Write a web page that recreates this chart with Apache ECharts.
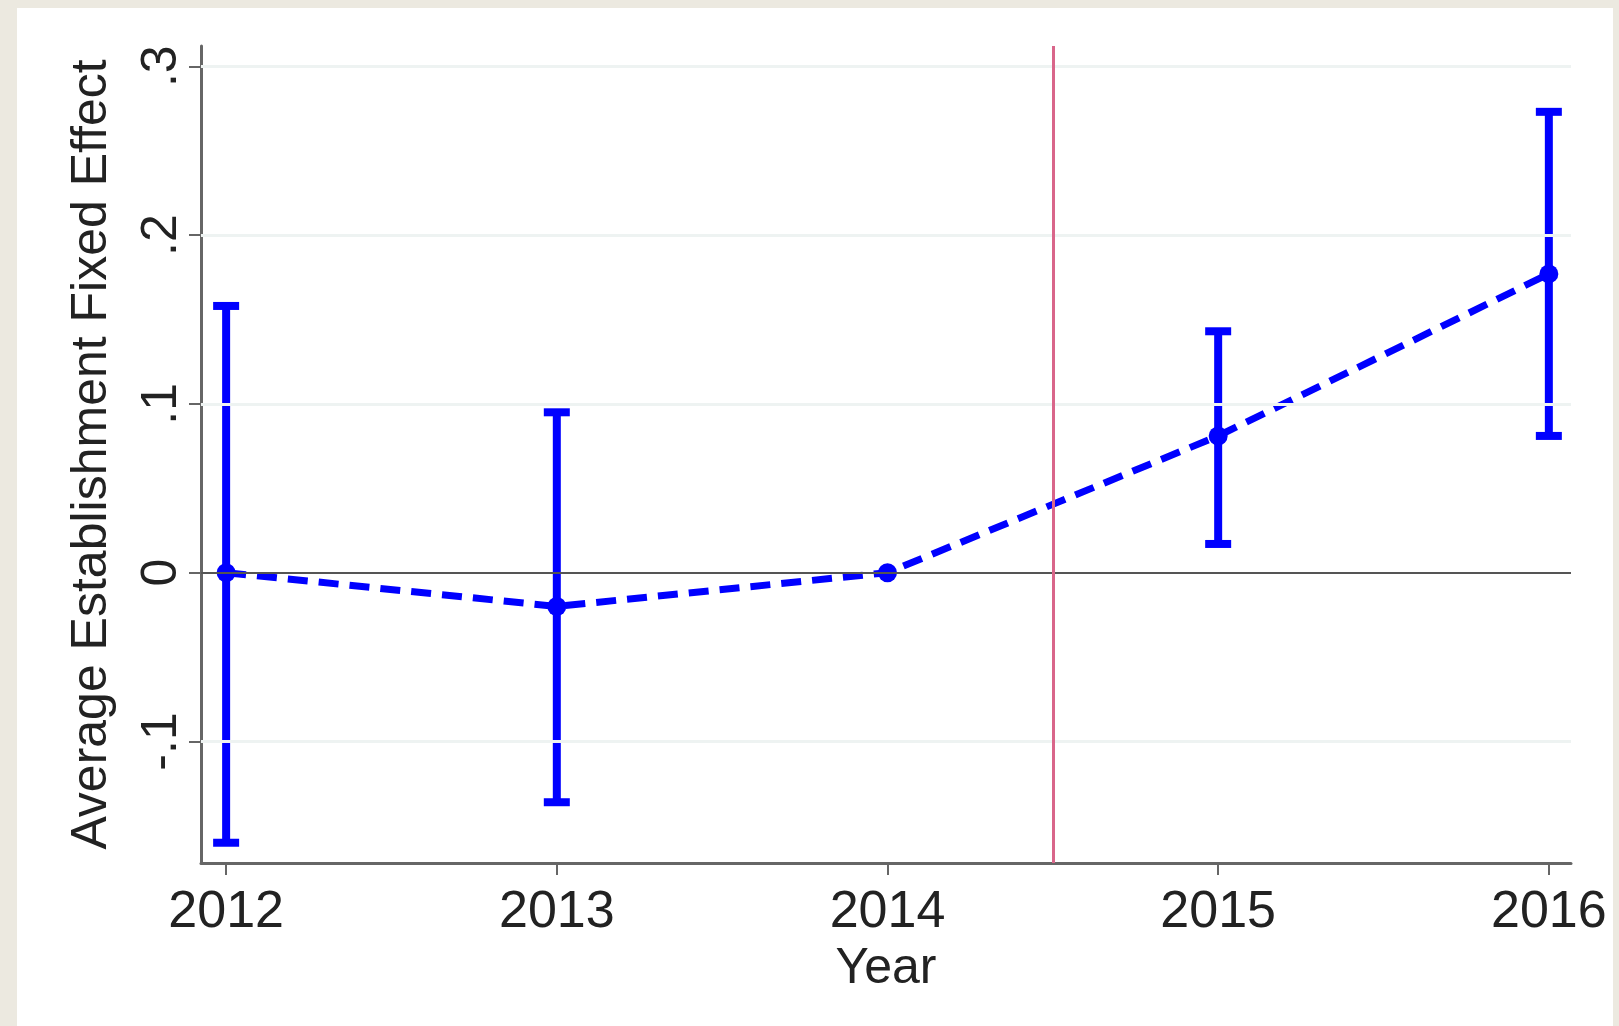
<!DOCTYPE html>
<html>
<head>
<meta charset="utf-8">
<title>Average Establishment Fixed Effect by Year</title>
<script src="https://cdn.jsdelivr.net/npm/echarts@6/dist/echarts.min.js"></script>
<style>
  html, body { margin: 0; padding: 0; width: 1619px; height: 1026px; background: #ECE9E0; overflow: hidden; }
  #chart { position: absolute; left: 17px; top: 8px; width: 1596px; height: 1018px; background: #ffffff; }
</style>
</head>
<body>
<div id="chart"></div>
<script>
// Event-study estimates: point estimate and 95% confidence bounds per year
const years = [2012, 2013, 2014, 2015, 2016];
const estimates = [0.000, -0.020, 0.000, 0.081, 0.177];
const ciLower = [-0.160, -0.136, null, 0.017, 0.081];
const ciUpper = [0.158, 0.095, null, 0.143, 0.273];

// Axis ticks (Stata-style labels)
const yTickValues = [-0.1, 0, 0.1, 0.2, 0.3];
const yTickLabels = ['-.1', '0', '.1', '.2', '.3'];
const xTickValues = years;
const policyBreak = 2014.5;

const FONT = '"Liberation Sans", Arial, Helvetica, sans-serif';
const BLUE = '#0000ff';

const pointData = years.map((y, i) => [y, estimates[i]]);
const ciData = years
  .map((y, i) => [y, ciLower[i], ciUpper[i]])
  .filter(d => d[1] !== null && d[2] !== null);

const chart = echarts.init(document.getElementById('chart'), null, { renderer: 'canvas' });

chart.setOption({
  animation: false,
  textStyle: { fontFamily: FONT },
  grid: { left: 184, right: 42, top: 38, bottom: 163, containLabel: false },
  xAxis: {
    type: 'value',
    min: 2011.924,
    max: 2016.067,
    name: 'Year',
    nameLocation: 'middle',
    nameGap: 80,
    nameTextStyle: { fontSize: 50, color: '#222', fontFamily: FONT },
    axisLine: { show: true, onZero: false, lineStyle: { color: '#666', width: 3 } },
    axisTick: { show: true, length: 12, customValues: xTickValues, lineStyle: { color: '#666', width: 2 } },
    axisLabel: { customValues: xTickValues, fontSize: 52, color: '#222', margin: 24, fontFamily: FONT,
                 formatter: v => String(Math.round(v)) },
    splitLine: { show: false }
  },
  yAxis: {
    type: 'value',
    min: -0.172,
    max: 0.312,
    name: 'Average Establishment Fixed Effect',
    nameLocation: 'middle',
    nameRotate: 90,
    nameGap: 84,
    nameTextStyle: { fontSize: 50, color: '#222', fontFamily: FONT },
    axisLine: { show: true, onZero: false, lineStyle: { color: '#666', width: 3 } },
    axisTick: { show: true, length: 12, customValues: yTickValues, lineStyle: { color: '#666', width: 2 } },
    axisLabel: {
      customValues: yTickValues, rotate: 90, fontSize: 50, color: '#222', margin: 14, fontFamily: FONT,
      formatter: v => {
        const i = yTickValues.findIndex(t => Math.abs(t - v) < 1e-9);
        return i >= 0 ? yTickLabels[i] : '';
      }
    },
    splitLine: { show: false }
  },
  series: [
    {
      // reference lines: faint horizontal grid, zero line, policy break
      type: 'line',
      data: [],
      z: 1,
      silent: true,
      markLine: {
        silent: true,
        symbol: 'none',
        label: { show: false },
        animation: false,
        data: [
          ...yTickValues.filter(v => v !== 0).map(v => ({ yAxis: v, lineStyle: { color: '#eef3f2', width: 3, type: 'solid' } })),
          { yAxis: 0, lineStyle: { color: '#555', width: 2, type: 'solid' } },
          { xAxis: policyBreak, lineStyle: { color: '#d9668a', width: 3, type: 'solid' } }
        ]
      }
    },
    {
      // confidence intervals with caps
      type: 'custom',
      z: 3,
      data: ciData,
      renderItem: (params, api) => {
        const x = api.value(0);
        const lo = api.coord([x, api.value(1)]);
        const hi = api.coord([x, api.value(2)]);
        const half = 13;
        const style = { stroke: BLUE, lineWidth: 8 };
        return {
          type: 'group',
          children: [
            { type: 'line', shape: { x1: lo[0], y1: lo[1], x2: hi[0], y2: hi[1] }, style },
            { type: 'line', shape: { x1: lo[0] - half, y1: lo[1], x2: lo[0] + half, y2: lo[1] }, style },
            { type: 'line', shape: { x1: hi[0] - half, y1: hi[1], x2: hi[0] + half, y2: hi[1] }, style }
          ]
        };
      }
    },
    {
      // point estimates joined by dashed line
      type: 'line',
      z: 4,
      data: pointData,
      symbol: 'circle',
      symbolSize: 19,
      itemStyle: { color: BLUE },
      lineStyle: { color: BLUE, width: 7, type: [20, 11] }
    }
  ]
});
</script>
</body>
</html>
